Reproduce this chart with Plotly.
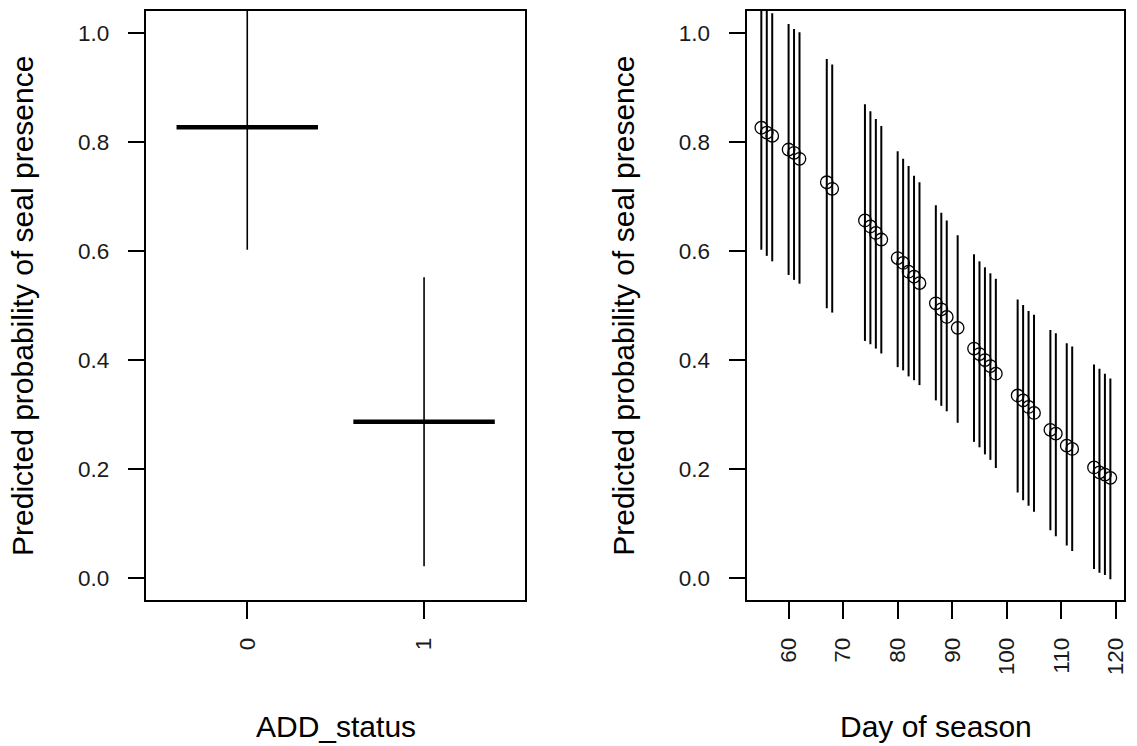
import plotly.graph_objects as go

# ---- Left panel: ADD_status ----
status = [0, 1]
status_labels = ["0", "1"]
status_fit = [0.827, 0.287]
status_lower = [0.602, 0.022]
status_upper = [1.052, 0.552]

# ---- Right panel: Day of season ----
days = [55, 56, 57, 60, 61, 62, 67, 68, 74, 75, 76, 77, 80, 81, 82, 83, 84,
        87, 88, 89, 91, 94, 95, 96, 97, 98, 102, 103, 104, 105, 108, 109,
        111, 112, 116, 117, 118, 119]
day_fit = [0.826, 0.817, 0.811, 0.786, 0.780, 0.769, 0.726, 0.714, 0.656,
           0.645, 0.633, 0.621, 0.587, 0.578, 0.562, 0.553, 0.541, 0.504,
           0.493, 0.479, 0.459, 0.421, 0.411, 0.400, 0.389, 0.375, 0.335,
           0.326, 0.314, 0.303, 0.272, 0.265, 0.243, 0.237, 0.203, 0.194,
           0.190, 0.184]
day_lower = [0.602, 0.591, 0.581, 0.556, 0.547, 0.540, 0.495, 0.487, 0.435,
             0.429, 0.421, 0.412, 0.387, 0.381, 0.370, 0.363, 0.354, 0.326,
             0.316, 0.306, 0.285, 0.250, 0.240, 0.227, 0.217, 0.202, 0.157,
             0.143, 0.133, 0.122, 0.088, 0.077, 0.060, 0.050, 0.017, 0.010,
             0.006, -0.002]
day_upper = [1.050, 1.043, 1.036, 1.016, 1.007, 1.001, 0.952, 0.942, 0.869,
             0.856, 0.842, 0.829, 0.783, 0.769, 0.756, 0.738, 0.726, 0.684,
             0.670, 0.656, 0.629, 0.594, 0.581, 0.570, 0.559, 0.549, 0.511,
             0.501, 0.490, 0.483, 0.455, 0.449, 0.431, 0.425, 0.392, 0.384,
             0.375, 0.366]
day_ticks = [60, 70, 80, 90, 100, 110, 120]
y_ticks = [0.0, 0.2, 0.4, 0.6, 0.8, 1.0]
y_ticktext = ["0.0", "0.2", "0.4", "0.6", "0.8", "1.0"]

W, H = 1137, 746
FONT = "Liberation Sans, Arial, sans-serif"
BAR_HALF = 0.4


def segs(xs, lo, hi):
    X, Y = [], []
    for x, a, b in zip(xs, lo, hi):
        X += [x, x, None]
        Y += [a, b, None]
    return X, Y


fig = go.Figure()

# left CI lines
X, Y = segs(status, status_lower, status_upper)
fig.add_trace(go.Scatter(x=X, y=Y, mode="lines", line=dict(color="black", width=1.6),
                         xaxis="x", yaxis="y", showlegend=False, hoverinfo="skip"))
# left horizontal fit bars
HX, HY = [], []
for s, f in zip(status, status_fit):
    HX += [s - BAR_HALF, s + BAR_HALF, None]
    HY += [f, f, None]
fig.add_trace(go.Scatter(x=HX, y=HY, mode="lines", line=dict(color="black", width=4.5),
                         xaxis="x", yaxis="y", showlegend=False))

# right CI lines
X2, Y2 = segs(days, day_lower, day_upper)
fig.add_trace(go.Scatter(x=X2, y=Y2, mode="lines", line=dict(color="black", width=2),
                         xaxis="x2", yaxis="y2", showlegend=False, hoverinfo="skip"))
fig.add_trace(go.Scatter(x=days, y=day_fit, mode="markers",
                         marker=dict(symbol="circle-open", size=12.5, color="black",
                                     line=dict(width=1.3, color="black")),
                         xaxis="x2", yaxis="y2", showlegend=False, cliponaxis=False))

axis_common = dict(showline=True, mirror=True, linecolor="black", linewidth=1.5,
                   ticks="outside", ticklen=17, tickwidth=1.5, tickcolor="black",
                   showgrid=False, zeroline=False,
                   tickfont=dict(family=FONT, size=22.5, color="#1a1a1a"))

ydom = [1 - 600 / H, 1 - 11 / H]
fig.update_layout(
    width=W, height=H, margin=dict(l=0, r=0, t=0, b=0),
    paper_bgcolor="white", plot_bgcolor="white", showlegend=False,
    xaxis=dict(domain=[147 / W, 526.7 / W], range=[-0.57, 1.57],
               tickvals=status, ticktext=status_labels, tickangle=-90,
               ticklabelstandoff=10, anchor="y", **axis_common),
    yaxis=dict(domain=ydom, range=[-0.04, 1.04], tickvals=y_ticks, ticktext=y_ticktext,
               ticklabelstandoff=14, anchor="x", **axis_common),
    xaxis2=dict(domain=[750 / W, 1128.3 / W], range=[52.44, 121.56],
                tickvals=day_ticks, ticktext=[str(d) for d in day_ticks], tickangle=-90,
                ticklabelstandoff=10, anchor="y2", **axis_common),
    yaxis2=dict(domain=ydom, range=[-0.04, 1.04], tickvals=y_ticks, ticktext=y_ticktext,
                ticklabelstandoff=14, anchor="x2", **axis_common),
)

title_font = dict(family=FONT, size=30, color="black")
ytitle = "Predicted probability of seal presence"
fig.add_annotation(text=ytitle, textangle=-90, x=22 / W, y=1 - 306 / H,
                   xref="paper", yref="paper", xanchor="center", yanchor="middle",
                   showarrow=False, font=title_font)
fig.add_annotation(text=ytitle, textangle=-90, x=625 / W, y=1 - 306 / H,
                   xref="paper", yref="paper", xanchor="center", yanchor="middle",
                   showarrow=False, font=title_font)
fig.add_annotation(text="ADD_status", x=336.8 / W, y=1 - 726 / H,
                   xref="paper", yref="paper", xanchor="center", yanchor="middle",
                   showarrow=False, font=title_font)
fig.add_annotation(text="Day of season", x=939 / W, y=1 - 726 / H,
                   xref="paper", yref="paper", xanchor="center", yanchor="middle",
                   showarrow=False, font=title_font)

fig.write_html("out.html", config={"displayModeBar": False},
               post_script="document.body.style.margin='0';document.body.style.overflow='hidden';")
